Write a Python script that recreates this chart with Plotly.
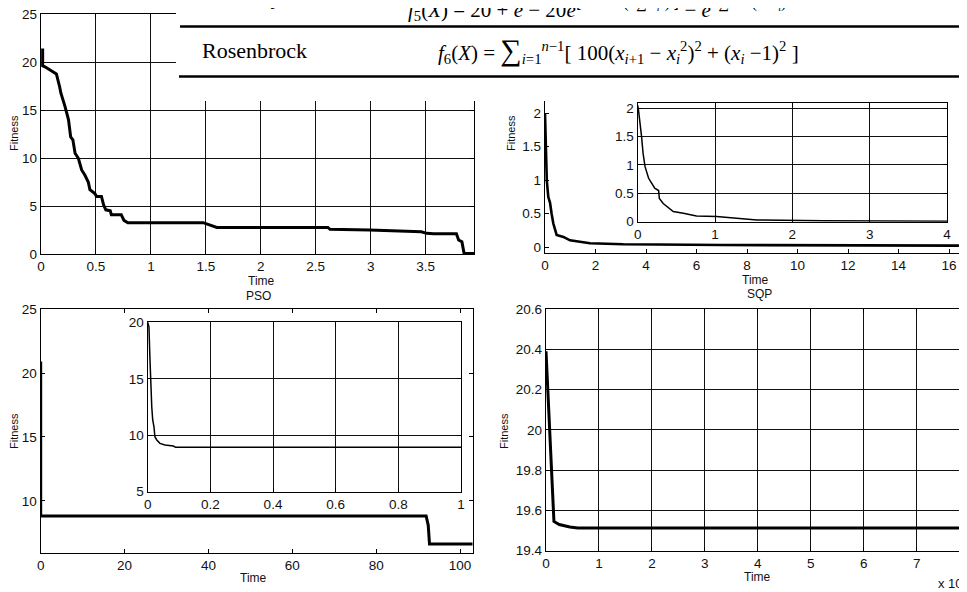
import plotly.graph_objects as go

W, H = 967, 592
OFF = 8  # the page body has an 8 px margin; positions below are page pixels

# ---------------- data ----------------
# top-left: PSO convergence (Time vs Fitness)
pso1_time = [0.015, 0.015, 0.036, 0.14, 0.17, 0.18, 0.22, 0.25, 0.27, 0.29, 0.31, 0.34, 0.37, 0.40,
             0.43, 0.445, 0.49, 0.505, 0.55, 0.57, 0.59, 0.63, 0.64, 0.73, 0.755, 0.79, 1.475, 1.55,
             1.6, 2.61, 2.63, 2.99, 3.2, 3.46, 3.51, 3.57, 3.78, 3.80, 3.83, 3.85, 3.94]
pso1_fit = [21.4, 19.6, 19.5, 18.75, 17.4, 16.8, 15.3, 14.0, 12.2, 11.9, 10.5, 9.97, 8.75, 8.2,
            7.5, 6.7, 6.3, 6.0, 6.0, 5.1, 4.6, 4.5, 4.1, 4.1, 3.5, 3.26, 3.26, 3.0,
            2.77, 2.77, 2.57, 2.5, 2.4, 2.32, 2.15, 2.1, 2.1, 1.46, 1.28, 0.05, 0.05]

# top-right: SQP convergence, main and inset
sqp1_time = [0, 0.03, 0.07, 0.13, 0.2, 0.26, 0.33, 0.46, 0.73, 0.99, 1.78, 3.1, 7.0, 16.8]
sqp1_fit = [2.0, 1.5, 1.0, 0.75, 0.66, 0.5, 0.35, 0.18, 0.15, 0.10, 0.055, 0.04, 0.03, 0.02]
sqp1_in_time = [0, 0.01, 0.05, 0.07, 0.095, 0.14, 0.18, 0.22, 0.27, 0.28, 0.33, 0.46, 0.59, 0.76,
                1.02, 1.54, 2.4, 4.0]
sqp1_in_fit = [2.05, 1.97, 1.5, 1.2, 0.97, 0.77, 0.68, 0.59, 0.55, 0.41, 0.32, 0.18, 0.15, 0.10,
               0.09, 0.03, 0.015, 0.01]

# bottom-left: PSO, main and inset
pso2_time = [0, 0, 91.9, 92.4, 92.7, 103]
pso2_fit = [20.9, 8.83, 8.83, 8.1, 6.64, 6.64]
pso2_in_time = [0, 0.004, 0.007, 0.01, 0.013, 0.016, 0.02, 0.023, 0.029, 0.039, 0.055, 0.082, 0.089, 1.0]
pso2_in_fit = [20, 19.6, 16.9, 14.0, 12.5, 11.35, 10.75, 9.87, 9.58, 9.28, 9.13, 9.04, 8.93, 8.93]

# bottom-right: SQP (time in units of 1e-3)
sqp2_time = [0, 0.15, 0.25, 0.45, 0.6, 8.0]
sqp2_fit = [20.39, 19.545, 19.53, 19.518, 19.513, 19.513]

# ---------------- helpers ----------------
def px(x):
    return (x - OFF) / W

def py(y):
    return 1 - (y - OFF) / H

SANS = "Liberation Sans, Arial, sans-serif"
SERIF = "Liberation Serif, Times New Roman, serif"
TICKFONT = dict(family=SANS, size=13.5, color="#111")


def axis(x0, x1, rng, dtick, grid, mirror="ticks"):
    return dict(domain=[x0, min(x1, 1.0)], range=rng, dtick=dtick, tick0=0, showgrid=grid,
                gridcolor="#111", gridwidth=1.3, showline=True, linecolor="black",
                linewidth=1.4, mirror=mirror, ticks="inside", ticklen=4, tickcolor="black",
                tickwidth=1, tickfont=TICKFONT, zeroline=False, fixedrange=True,
                automargin=False, ticklabeloverflow="allow")

fig = go.Figure()

LINE_MAIN = dict(color="black", width=3)
LINE_IN = dict(color="black", width=1.5)

fig.add_trace(go.Scatter(x=pso1_time, y=pso1_fit, mode="lines", line=LINE_MAIN, xaxis="x", yaxis="y"))
fig.add_trace(go.Scatter(x=sqp1_time, y=sqp1_fit, mode="lines", line=dict(color="black", width=2.6), xaxis="x2", yaxis="y2"))
fig.add_trace(go.Scatter(x=pso2_time, y=pso2_fit, mode="lines", line=LINE_MAIN, xaxis="x3", yaxis="y3"))
fig.add_trace(go.Scatter(x=sqp2_time, y=sqp2_fit, mode="lines", line=LINE_MAIN, xaxis="x4", yaxis="y4"))
fig.add_trace(go.Scatter(x=sqp1_in_time, y=sqp1_in_fit, mode="lines", line=LINE_IN, xaxis="x5", yaxis="y5"))
fig.add_trace(go.Scatter(x=pso2_in_time, y=pso2_in_fit, mode="lines", line=LINE_IN, xaxis="x6", yaxis="y6"))

layout = dict(
    width=W, height=H, margin=dict(l=0, r=0, t=0, b=0, autoexpand=False),
    paper_bgcolor="white", plot_bgcolor="white", showlegend=False,
)

def ydom(bottom, top):
    return [py(bottom), py(top)]

# top-left
layout["xaxis"] = axis(px(41), px(474), [0, 3.94], 0.5, True)
layout["yaxis"] = axis(0, 0, [0, 25], 5, True)
layout["yaxis"]["domain"] = ydom(254, 14)
layout["xaxis"]["anchor"] = "y"; layout["yaxis"]["anchor"] = "x"
# top-right main (right edge at page x 969)
layout["xaxis2"] = axis(px(545), px(969), [0, 16.79], 2, False)
layout["yaxis2"] = axis(0, 0, [-0.0896, 2.27], 0.5, False)
layout["yaxis2"]["domain"] = ydom(253, 95)
layout["xaxis2"]["anchor"] = "y2"; layout["yaxis2"]["anchor"] = "x2"
# bottom-left main
layout["xaxis3"] = axis(px(40.7), px(472.7), [0, 103], 20, False)
layout["yaxis3"] = axis(0, 0, [5.96, 25], 5, False)
layout["yaxis3"]["domain"] = ydom(552.7, 309)
layout["xaxis3"]["anchor"] = "y3"; layout["yaxis3"]["anchor"] = "x3"
# bottom-right (right edge at page x 970)
layout["xaxis4"] = axis(px(546), px(970), [0, 8.007], 1, True)
layout["yaxis4"] = axis(0, 0, [19.3999, 20.6001], 0.2, True)
layout["yaxis4"]["domain"] = ydom(550.7, 309)
layout["xaxis4"]["anchor"] = "y4"; layout["yaxis4"]["anchor"] = "x4"
# top-right inset
layout["xaxis5"] = axis(px(637.7), px(947), [0, 4], 1, True)
layout["yaxis5"] = axis(0, 0, [0, 2.093], 0.5, True)
layout["yaxis5"]["domain"] = ydom(221.7, 103)
layout["xaxis5"]["anchor"] = "y5"; layout["yaxis5"]["anchor"] = "x5"
# bottom-left inset
layout["xaxis6"] = axis(px(147.7), px(461), [0, 1.0001], 0.2, True)
layout["yaxis6"] = axis(0, 0, [4.999, 20.001], 5, True)
layout["yaxis6"]["domain"] = ydom(491.7, 322.3)
layout["xaxis6"]["anchor"] = "y6"; layout["yaxis6"]["anchor"] = "x6"

fig.update_layout(**layout)

# ---------------- table overlay at the top ----------------
shapes = [
    dict(type="rect", xref="paper", yref="paper", x0=px(176), x1=1.0, y0=py(101), y1=1.0,
         fillcolor="white", line=dict(width=0), layer="above"),
    dict(type="line", xref="paper", yref="paper", x0=px(180), x1=1.0, y0=py(26.5), y1=py(26.5),
         line=dict(color="black", width=2.5), layer="above"),
    dict(type="line", xref="paper", yref="paper", x0=px(179), x1=1.0, y0=py(76.5), y1=py(76.5),
         line=dict(color="black", width=2.5), layer="above"),
]
fig.update_layout(shapes=shapes)

ann = []

def text(x, y, s, size=13, family=SANS, xanchor="center", yanchor="middle", angle=0, color="#111"):
    ann.append(dict(x=px(x), y=py(y), xref="paper", yref="paper", text=s, showarrow=False,
                    xanchor=xanchor, yanchor=yanchor, textangle=angle,
                    font=dict(family=family, size=size, color=color)))

BIG_SUM = '<span style="font-size:30px">∑</span>'

# table text
text(250, -3, "Ackley", size=22, family=SERIF, color="black")
text(406, 8, "<i>f</i><sub>5</sub>(<i>X</i>) = 20 + <i>e</i> − 20<i>e</i>"
     "<sup>⌊ −0.2 √(<i>n</i>∑ <i>x</i><sub><i>i</i></sub><sup>2</sup>) ⌋</sup> − <i>e</i>"
     "<sup><i>n</i>∑ cos(2π<i>x</i><sub><i>i</i></sub>)</sup>",
     size=21, family=SERIF, xanchor="left", color="black")
text(957, 6, "(", size=20, family=SERIF, xanchor="left", color="black")
text(200, 51, "Rosenbrock", size=22, family=SERIF, xanchor="left", color="black")
text(436, 50, "<i>f</i><sub>6</sub>(<i>X</i>) = " + BIG_SUM + "<sub><i>i</i>=1</sub><sup><i>n</i>−1</sup>"
     "[ 100(<i>x</i><sub><i>i</i>+1</sub> − <i>x</i><sub><i>i</i></sub><sup>2</sup>)<sup>2</sup> + "
     "(<i>x</i><sub><i>i</i></sub> −1)<sup>2</sup> ]",
     size=21, family=SERIF, xanchor="left", color="black")

# axis titles / captions
text(14, 133, "Fitness", size=11, angle=-90)
text(261, 281, "Time", size=12)
text(258, 296, "PSO", size=12)
text(511, 133, "Fitness", size=11, angle=-90)
text(755, 280, "Time", size=12)
text(759, 294, "SQP", size=12)
text(14, 431, "Fitness", size=11, angle=-90)
text(253, 578, "Time", size=12)
text(504, 431, "Fitness", size=11, angle=-90)
text(757, 577, "Time", size=12)
text(936, 583, "x 10<sup>-3</sup>", size=13, xanchor="left")

fig.update_layout(annotations=ann)

fig.write_html("out.html")
